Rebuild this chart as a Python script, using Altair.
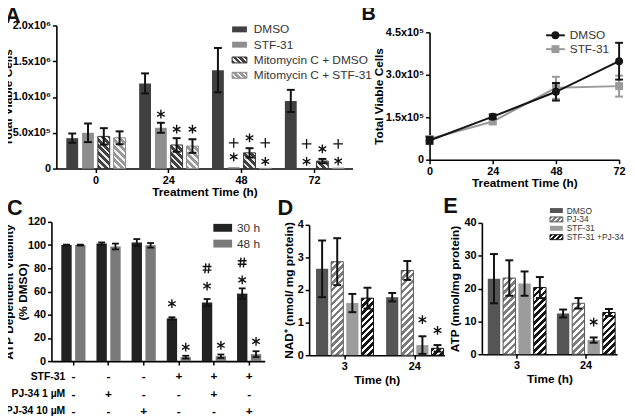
import altair as alt
import pandas as pd

FONT = "Liberation Sans"

# ======================= data =======================
# --- A: total viable cells (mean, SEM) ---
a_times = ["0", "24", "48", "72"]
a_series = ["DMSO", "STF-31", "Mitomycin C + DMSO", "Mitomycin C + STF-31"]
a_dmso = [4.25e5, 1.19e6, 1.375e6, 9.45e5]
a_dmso_sem = [0.65e5, 1.4e5, 3.1e5, 1.55e5]
a_stf = [5.0e5, 5.7e5, 2.0e4, 0.0]
a_stf_sem = [1.3e5, 0.7e5, 0.0, 0.0]
a_mito_dmso = [4.5e5, 3.3e5, 2.2e5, 1.05e5]
a_mito_dmso_sem = [1.15e5, 0.95e5, 0.65e5, 0.3e5]
a_mito_stf = [4.3e5, 3.15e5, 4.0e3, 6.0e3]
a_mito_stf_sem = [0.9e5, 0.95e5, 0.0, 0.0]
a_sig_time = ["24", "24", "24", "48", "48", "48", "48", "48", "72", "72", "72", "72", "72"]
a_sig_series = ["STF-31", "Mitomycin C + DMSO", "Mitomycin C + STF-31",
                "STF-31", "STF-31", "Mitomycin C + DMSO", "Mitomycin C + STF-31", "Mitomycin C + STF-31",
                "STF-31", "STF-31", "Mitomycin C + DMSO", "Mitomycin C + STF-31", "Mitomycin C + STF-31"]
a_sig_symbol = ["*", "*", "*", "+", "*", "*", "+", "*", "+", "*", "*", "+", "*"]
a_sig_at = [7.6e5, 5.5e5, 5.5e5, 3.6e5, 1.65e5, 4.3e5, 3.6e5, 1.0e5, 3.45e5, 1.0e5, 2.75e5, 3.45e5, 1.05e5]
a_yticks = [0, 5e5, 1e6, 1.5e6, 2e6]
a_ylabels = ["0", "5.0x10⁵", "1.0x10⁶", "1.5x10⁶", "2.0x10⁶"]

# --- B: growth curve ---
b_times = [0, 24, 48, 72]
b_series = ["DMSO", "STF-31"]
b_dmso = [6.8e4, 1.52e5, 2.40e5, 3.48e5]
b_dmso_sem = [1.2e4, 0.8e4, 3.1e4, 6.5e4]
b_stf = [7.3e4, 1.35e5, 2.54e5, 2.60e5]
b_stf_sem = [1.0e4, 0.8e4, 3.9e4, 3.7e4]
b_yticks = [0, 1.5e5, 3e5, 4.5e5]
b_ylabels = ["0", "1.5x10⁵", "3.0x10⁵", "4.5x10⁵"]

# --- C: ATP dependent viability ---
c_conditions = ["c1", "c2", "c3", "c4", "c5", "c6"]
c_series = ["30 h", "48 h"]
c_30h = [100.0, 101.3, 102.2, 36.8, 50.5, 58.2]
c_30h_sem = [0.4, 1.0, 3.0, 1.0, 3.0, 4.5]
c_48h = [100.0, 98.8, 99.8, 3.4, 4.2, 6.0]
c_48h_sem = [0.4, 2.5, 2.0, 1.2, 1.5, 2.5]
c_row_names = ["STF-31", "PJ-34 1 µM", "PJ-34 10 µM"]
c_stf31 = ["-", "-", "-", "+", "+", "+"]
c_pj34_1 = ["-", "+", "-", "-", "+", "-"]
c_pj34_10 = ["-", "-", "+", "-", "-", "+"]
c_sig_condition = ["c4", "c5", "c5", "c6", "c6", "c4", "c5", "c6"]
c_sig_series = ["30 h", "30 h", "30 h", "30 h", "30 h", "48 h", "48 h", "48 h"]
c_sig_symbol = ["*", "*", "#", "*", "#", "*", "*", "*"]
c_sig_at = [49.5, 64.7, 80.0, 70.0, 85.0, 12.0, 13.6, 17.0]

# --- D / E: NAD+ and ATP ---
de_times = ["3", "24"]
de_series = ["DMSO", "PJ-34", "STF-31", "STF-31 +PJ-34"]
d_dmso = [2.65, 1.78]
d_dmso_sem = [0.87, 0.13]
d_pj = [2.87, 2.6]
d_pj_sem = [0.72, 0.29]
d_stf = [1.6, 0.31]
d_stf_sem = [0.28, 0.27]
d_stfpj = [1.75, 0.21]
d_stfpj_sem = [0.32, 0.1]
d_sig_time = ["24", "24"]
d_sig_series = ["STF-31", "STF-31 +PJ-34"]
d_sig_symbol = ["*", "*"]
d_sig_at = [1.09, 0.76]

e_dmso = [23.0, 12.4]
e_dmso_sem = [7.5, 1.2]
e_pj = [23.2, 15.5]
e_pj_sem = [5.4, 1.6]
e_stf = [21.5, 4.3]
e_stf_sem = [3.7, 0.8]
e_stfpj = [20.3, 12.7]
e_stfpj_sem = [3.2, 1.1]
e_sig_time = ["24"]
e_sig_series = ["STF-31"]
e_sig_symbol = ["*"]
e_sig_at = [9.8]


# ======================= helpers =======================
def bar_table(groups, series, means, sems):
    rows = []
    for s, ms, es in zip(series, means, sems):
        for g, m, e in zip(groups, ms, es):
            rows.append({"group": g, "series": s, "value": m, "lo": m - e, "hi": m + e, "err": e})
    return pd.DataFrame(rows)


def sig_table(groups, series, symbols, at):
    return pd.DataFrame({"group": groups, "series": series, "sym": symbols, "at": at})


def label_expr(vals, labels):
    expr = "''"
    for v, l in reversed(list(zip(vals, labels))):
        expr = f"datum.value == {v} ? '{l}' : {expr}"
    return expr


def hatch_fill(base, stripe, w, h, period=7.0, frac=0.45, direction="back"):
    """Diagonal stripes as a sharp-stop linear gradient (bounding-box units)."""
    w = max(float(w), 0.5)
    h = max(float(h), 0.5)
    L = (w * w + h * h) / (w + h)
    a, b = w / L, h / L
    if direction == "fwd":      # '/'
        x1, y1, x2, y2 = 0.0, 0.0, a, b
    else:                       # '\'
        x1, y1, x2, y2 = 0.0, 1.0, a, 1.0 - b
    dt = period / (w + h)
    stops = []
    t = 0.0
    while t < 1.0 - 1e-9:
        m = min(t + dt * (1 - frac), 1.0)
        e = min(t + dt, 1.0)
        stops += [{"offset": round(t, 5), "color": base}, {"offset": round(m, 5), "color": base},
                  {"offset": round(m, 5), "color": stripe}, {"offset": round(e, 5), "color": stripe}]
        t += dt
    return {"gradient": "linear", "x1": x1, "y1": y1, "x2": x2, "y2": y2, "stops": stops}


ONE = pd.DataFrame({"k": [0]})


def legend_text(txt, x, y, size):
    return alt.Chart(ONE).mark_text(text=txt, align="left", baseline="middle", font=FONT,
                                    fontSize=size, color="#333").encode(x=alt.value(x), y=alt.value(y))


def legend_swatch(x, y, w, h, fill, stroke=None):
    kw = {"fill": fill}
    if stroke:
        kw.update(stroke=stroke, strokeWidth=1)
    return alt.Chart(ONE).mark_rect(**kw).encode(
        x=alt.value(x), x2=alt.value(x + w), y=alt.value(y - h / 2), y2=alt.value(y + h / 2))


def panel_letter(letter, x, baseline_y, size=22):
    return alt.Chart(ONE).mark_text(text=letter, align="left", baseline="alphabetic", font=FONT,
                                    fontSize=size, fontWeight="bold", color="#111").encode(
        x=alt.value(x), y=alt.value(baseline_y))


# significance symbols drawn as stroked symbol paths (centred on the value)
SYM_STYLE = {
    "*": dict(shape="M0,-1L0,1M-0.87,-0.5L0.87,0.5M-0.87,0.5L0.87,-0.5", size=78, sw=1.4),
    "+": dict(shape="M-1,0L1,0M0,-1L0,1", size=96, sw=1.3),
    "#": dict(shape="M-0.25,-1L-0.45,1M0.45,-1L0.25,1M-0.9,-0.36L0.9,-0.36M-0.9,0.36L0.9,0.36", size=100, sw=1.4),
}


def bar_panel(table, sig, groups, series, solid, hatch, *, xr, pin, pout, align,
              opin, ymax, yr, yaxis, xaxis, ppu, cap=8, rule_w=2.0):
    x = alt.X("group:N", sort=groups,
              scale=alt.Scale(domain=groups, range=xr, paddingInner=pin, paddingOuter=pout, align=align),
              axis=xaxis)
    xo = alt.XOffset("series:N", sort=series,
                     scale=alt.Scale(domain=series, paddingInner=opin, paddingOuter=0))

    def y(field):
        return alt.Y(f"{field}:Q", scale=alt.Scale(domain=[0, ymax], range=yr, nice=False, zero=False),
                     axis=yaxis)

    span = xr[1] - xr[0]
    n = len(groups)
    step = span / (n - pin + 2 * pout)
    bw = step * (1 - pin)
    ostep = bw / (len(series) - opin)
    bar_w = ostep * (1 - opin)

    base = alt.Chart(table)
    solid_names = [s for s in series if s in solid]
    layers = [
        base.mark_bar().encode(
            x=x, xOffset=xo, y=y("value"),
            fill=alt.Fill("series:N", scale=alt.Scale(domain=solid_names, range=[solid[s] for s in solid_names]),
                          legend=None),
        ).transform_filter(alt.FieldOneOfPredicate(field="series", oneOf=solid_names))
    ]
    for s, spec in hatch.items():
        sub = table[table["series"] == s]
        for _, row in sub.iterrows():
            if row["value"] <= 0:
                continue
            h = row["value"] * ppu
            layers.append(
                base.mark_bar(fill=hatch_fill(spec["base"], spec["stripe"], bar_w, h, period=spec["period"],
                                              frac=spec["frac"], direction=spec["dir"]),
                              stroke=spec["stroke"], strokeWidth=1)
                .encode(x=x, xOffset=xo, y=y("value"))
                .transform_filter((alt.datum.series == s) & (alt.datum.group == row["group"]))
            )
    err = alt.Chart(table[table["err"] > 0])
    layers.append(err.mark_rule(color="#111", strokeWidth=rule_w).encode(x=x, xOffset=xo, y=y("lo"), y2="hi"))
    for f in ("lo", "hi"):
        layers.append(err.mark_tick(orient="horizontal", size=cap, thickness=rule_w, color="#111", opacity=1)
                      .encode(x=x, xOffset=xo, y=y(f)))
    if sig is not None and len(sig):
        for sym in sorted(set(sig["sym"])):
            st = SYM_STYLE[sym]
            layers.append(
                alt.Chart(sig[sig["sym"] == sym]).mark_point(
                    shape=st["shape"], size=st["size"], filled=False, color="#111", strokeWidth=st["sw"],
                    opacity=1)
                .encode(x=x, xOffset=xo, y=y("at"))
            )
    return layers


# Grid: three columns of widths 223 / 137 / 137 with 38 px gaps (ref x 52, 313, 488).
# Panel A lives in column 1 (axis shifted 5 px right), panel B in column 2 (shifted 122 px right).

# ======================= panel A =======================
a_tab = bar_table(a_times, a_series, [a_dmso, a_stf, a_mito_dmso, a_mito_stf],
                  [a_dmso_sem, a_stf_sem, a_mito_dmso_sem, a_mito_stf_sem])
a_sig = sig_table(a_sig_time, a_sig_series, a_sig_symbol, a_sig_at)
A_HATCH = {
    "Mitomycin C + DMSO": dict(base="#414141", stripe="#e8e8e8", stroke="#333333", period=7, frac=0.42, dir="back"),
    "Mitomycin C + STF-31": dict(base="#9a9a9a", stripe="#f4f4f4", stroke="#8a8a8a", period=7, frac=0.42, dir="back"),
}
a_layers = bar_panel(
    a_tab, a_sig, a_times, a_series, {"DMSO": "#414141", "STF-31": "#8e8e8e"}, A_HATCH,
    xr=[5, 305], pin=0.187, pout=0.126, align=0.54, opin=0.25,
    ymax=2e6, yr=[145, 0], ppu=145 / 2e6,
    yaxis=alt.Axis(values=a_yticks, labelExpr=label_expr(a_yticks, a_ylabels), title="Total Viable Cells",
                   offset=-5, titlePadding=-2),
    xaxis=alt.Axis(title="Treatment Time (h)", labelAngle=0, titlePadding=1, titleX=155),
)
a_leg = []
for i, (name, fill) in enumerate(zip(a_series, ["#414141", "#8e8e8e", None, None])):
    yy = 4 + 15.5 * i
    if fill is None:
        spec = A_HATCH[name]
        a_leg.append(legend_swatch(183, yy, 15, 6, hatch_fill(spec["base"], spec["stripe"], 15, 6, period=6,
                                                              frac=0.42, direction="back"), spec["stroke"]))
    else:
        a_leg.append(legend_swatch(183, yy, 15, 6, fill))
    a_leg.append(legend_text(name, 205, yy, 12))
panel_a = alt.layer(*a_layers, *a_leg, panel_letter("A", -47, -2)).properties(width=223, height=145)

# ======================= panel B =======================
B0 = 122
b_rows = []
for s, ms, es in zip(b_series, [b_dmso, b_stf], [b_dmso_sem, b_stf_sem]):
    for t, m, e in zip(b_times, ms, es):
        b_rows.append({"time": t, "series": s, "value": m, "lo": m - e, "hi": m + e})
b_tab = pd.DataFrame(b_rows)
bx = alt.X("time:Q", scale=alt.Scale(domain=[0, 72], range=[B0, B0 + 192], nice=False, zero=False),
           axis=alt.Axis(values=b_times, title="Treatment Time (h)", titlePadding=1, titleX=B0 + 96))


def by(field):
    return alt.Y(f"{field}:Q", scale=alt.Scale(domain=[0, 4.5e5], range=[136, 7], nice=False, zero=False),
                 axis=alt.Axis(values=b_yticks, labelExpr=label_expr(b_yticks, b_ylabels),
                               title="Total Viable Cells", titlePadding=0, offset=-B0))


B_STYLE = {"STF-31": dict(color="#9a9a9a", shape="square"), "DMSO": dict(color="#151515", shape="circle")}
b_layers = []
for s in ["STF-31", "DMSO"]:
    st = B_STYLE[s]
    src = alt.Chart(b_tab).transform_filter(alt.datum.series == s)
    b_layers += [
        src.mark_line(color=st["color"], strokeWidth=2).encode(x=bx, y=by("value")),
        src.mark_rule(color=st["color"], strokeWidth=2).encode(x=bx, y=by("lo"), y2="hi"),
        src.mark_tick(orient="horizontal", size=8, thickness=2, color=st["color"], opacity=1).encode(x=bx, y=by("lo")),
        src.mark_tick(orient="horizontal", size=8, thickness=2, color=st["color"], opacity=1).encode(x=bx, y=by("hi")),
        src.mark_point(shape=st["shape"], filled=True, size=64, color=st["color"], opacity=1).encode(x=bx, y=by("value")),
    ]
b_leg = []
for i, s in enumerate(b_series):
    st = B_STYLE[s]
    yy = 10 + 14 * i
    b_leg += [
        alt.Chart(ONE).mark_rule(color=st["color"], strokeWidth=2).encode(
            x=alt.value(B0 + 118), x2=alt.value(B0 + 137), y=alt.value(yy)),
        alt.Chart(ONE).mark_point(shape=st["shape"], filled=True, size=64, color=st["color"], opacity=1).encode(
            x=alt.value(B0 + 127.5), y=alt.value(yy)),
        legend_text(s, B0 + 142, yy, 12),
    ]
panel_b = alt.layer(*b_layers, *b_leg, panel_letter("B", 53, -6, 20)).properties(width=137, height=136)

# ======================= panel C =======================
c_tab = bar_table(c_conditions, c_series, [c_30h, c_48h], [c_30h_sem, c_48h_sem])
c_sig = sig_table(c_sig_condition, c_sig_series, c_sig_symbol, c_sig_at)
c_label_expr = "''"
for cond, s1, s2, s3 in reversed(list(zip(c_conditions, c_stf31, c_pj34_1, c_pj34_10))):
    c_label_expr = f"datum.value == '{cond}' ? ['{s1}', '{s2}', '{s3}'] : {c_label_expr}"
c_layers = bar_panel(
    c_tab, c_sig, c_conditions, c_series, {"30 h": "#222222", "48 h": "#7a7a7a"}, {},
    xr=[0, 216], pin=0.312, pout=0.19, align=0.74, opin=0.25,
    ymax=120, yr=[141, 0], ppu=141 / 120, cap=7, rule_w=1.8,
    yaxis=alt.Axis(values=list(range(0, 121, 20)), title=["ATP Dependent  Viability", "(% DMSO)"],
                   titlePadding=-2),
    xaxis=alt.Axis(title=None, labelAngle=0, labelExpr=c_label_expr, labelFontSize=12,
                   labelLineHeight=17.5, labelPadding=6),
)
c_leg = [
    legend_swatch(164, 6, 19, 8, "#222222"), legend_text("30 h", 188, 6, 12),
    legend_swatch(164, 22, 19, 8, "#7a7a7a"), legend_text("48 h", 188, 22, 12),
    alt.Chart(ONE).mark_text(text="\n".join(c_row_names), lineBreak="\n", lineHeight=17.5, align="right",
                             baseline="top", font=FONT, fontSize=10.5, fontWeight="bold", color="#000")
    .encode(x=alt.value(14), y=alt.value(152)),
]
panel_c = alt.layer(*c_layers, *c_leg, panel_letter("C", -45, -7)).properties(width=223, height=141)

# ======================= panels D and E =======================
DE_SOLID = {"DMSO": "#555555", "STF-31": "#9c9c9c"}
DE_HATCH = {
    "PJ-34": dict(base="#7c7c7c", stripe="#ffffff", stroke="#555555", period=7, frac=0.5, dir="fwd"),
    "STF-31 +PJ-34": dict(base="#161616", stripe="#ffffff", stroke="#111111", period=7, frac=0.45, dir="fwd"),
}
d_tab = bar_table(de_times, de_series, [d_dmso, d_pj, d_stf, d_stfpj], [d_dmso_sem, d_pj_sem, d_stf_sem, d_stfpj_sem])
d_sig = sig_table(d_sig_time, d_sig_series, d_sig_symbol, d_sig_at)
d_layers = bar_panel(
    d_tab, d_sig, de_times, de_series, DE_SOLID, DE_HATCH,
    xr=[0, 137], pin=0.18, pout=0.055, align=0.9, opin=0.196,
    ymax=4, yr=[135, 3], ppu=33.0,
    yaxis=alt.Axis(values=[0, 1, 2, 3, 4], title="NAD⁺ (nmol/ mg protein)", titlePadding=2),
    xaxis=alt.Axis(title="Time (h)", labelAngle=0, titlePadding=3),
)
panel_d = alt.layer(*d_layers, panel_letter("D", -32, -7)).properties(width=137, height=135)

e_tab = bar_table(de_times, de_series, [e_dmso, e_pj, e_stf, e_stfpj], [e_dmso_sem, e_pj_sem, e_stf_sem, e_stfpj_sem])
e_sig = sig_table(e_sig_time, e_sig_series, e_sig_symbol, e_sig_at)
e_layers = bar_panel(
    e_tab, e_sig, de_times, de_series, DE_SOLID, DE_HATCH,
    xr=[0, 137], pin=0.157, pout=0.057, align=0.75, opin=0.19,
    ymax=40, yr=[134, 1], ppu=133 / 40,
    yaxis=alt.Axis(values=[0, 10, 20, 30, 40], title="ATP (nmol/mg protein)", titlePadding=2),
    xaxis=alt.Axis(title="Time (h)", labelAngle=0, titlePadding=3),
)
e_leg = []
for i, name in enumerate(de_series):
    yy = -11.5 + 9 * i
    if name in DE_HATCH:
        spec = DE_HATCH[name]
        e_leg.append(legend_swatch(69, yy, 13, 5, hatch_fill(spec["base"], spec["stripe"], 13, 5, period=5,
                                                             frac=spec["frac"], direction="fwd"), spec["stroke"]))
    else:
        e_leg.append(legend_swatch(69, yy, 13, 5, DE_SOLID[name]))
    e_leg.append(legend_text(name, 86, yy, 8.5))
panel_e = alt.layer(*e_layers, *e_leg, panel_letter("E", -39, -9)).properties(width=137, height=134)

# ======================= layout =======================
# spacer cell (column 3, row 1; origin at reference pixel 488,23) holding a tiny corner anchor
# at reference pixel (-6,-6), outside the visible page, so that the page origin is fixed
blank = alt.Chart(ONE).mark_rect(fill="#ffffff", opacity=1).encode(
    x=alt.value(-494), x2=alt.value(-493), y=alt.value(-29), y2=alt.value(-28)
).properties(width=137, height=1)
chart = (
    alt.concat(panel_a, panel_b, blank, panel_c, panel_d, panel_e, columns=3,
               spacing={"row": 54, "column": 38}, bounds="flush")
    .resolve_scale(fill="independent", xOffset="independent")
    .properties(padding={"left": -14, "top": -14, "right": 1, "bottom": 0}, background="white")
    .configure_view(stroke=None)
    .configure_axis(labelFont=FONT, labelFontWeight="bold", labelFontSize=11, labelColor="#000",
                    titleFont=FONT, titleFontWeight="bold", titleFontSize=12, titleColor="#000",
                    domainColor="#000", domainWidth=1.6, tickColor="#000", tickWidth=1.5, tickSize=4,
                    grid=False, labelPadding=2, labelFlush=False, labelOverlap=False)
)
chart.save("out.html", embed_options={"renderer": "svg", "actions": False})
